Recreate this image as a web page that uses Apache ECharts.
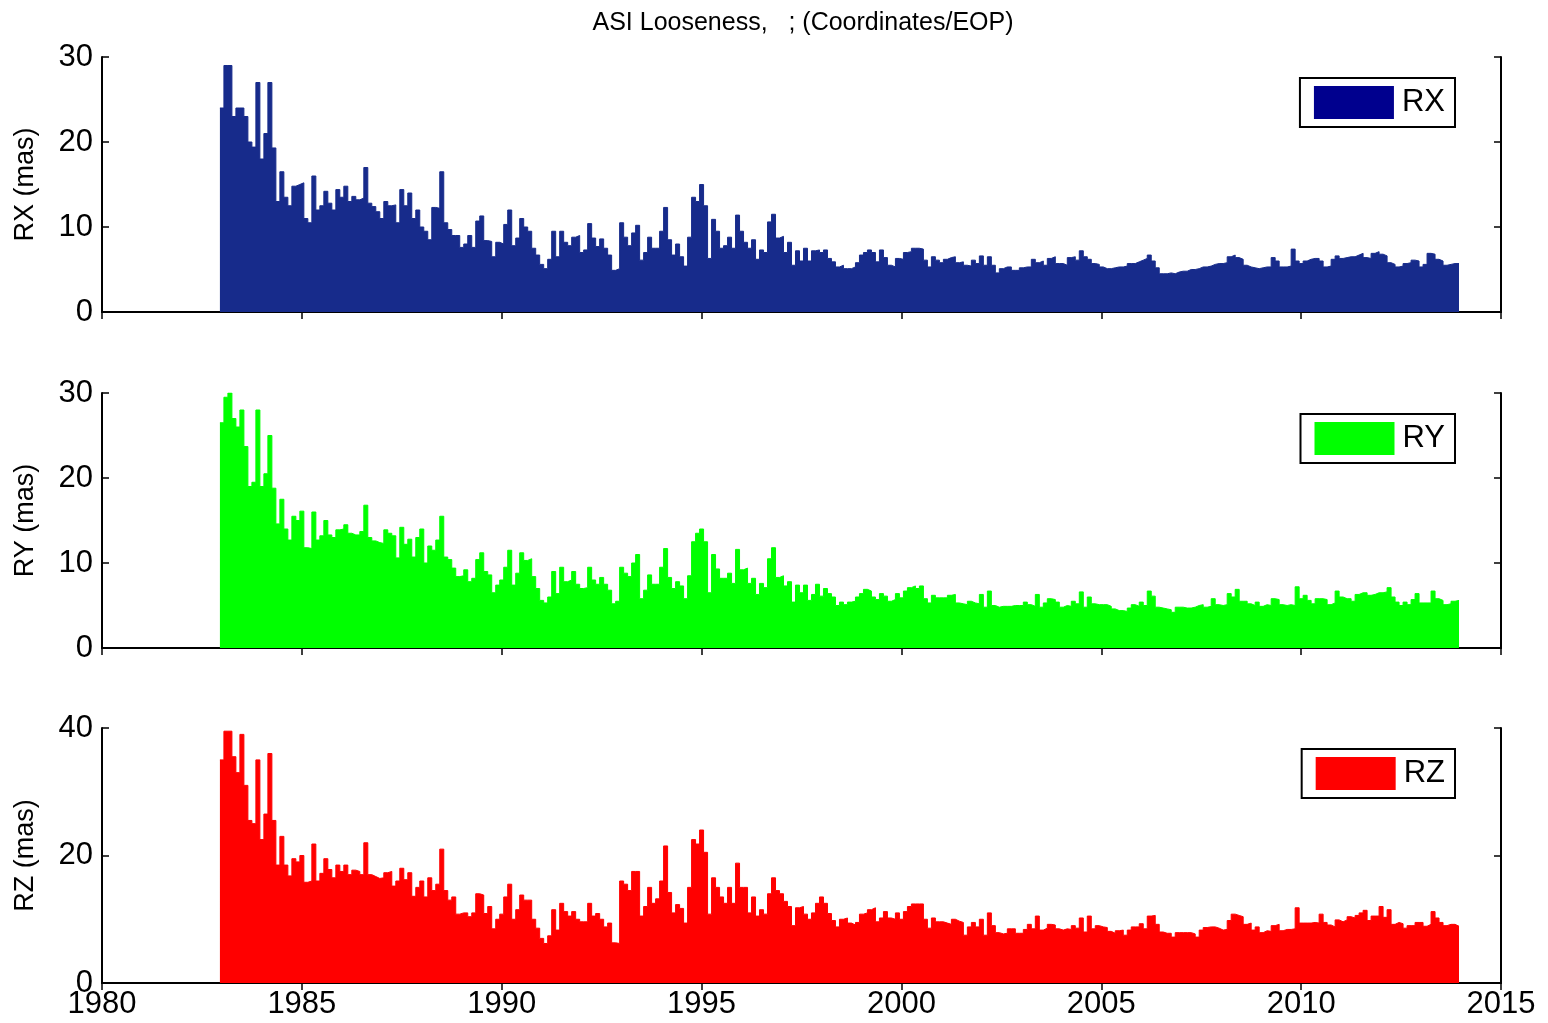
<!DOCTYPE html>
<html>
<head>
<meta charset="utf-8">
<title>ASI Looseness</title>
<script src="https://cdn.jsdelivr.net/npm/echarts/dist/echarts.min.js"></script>
<style>
  html, body { margin: 0; padding: 0; background: #fff; }
  #chart { width: 1548px; height: 1023px; }
</style>
</head>
<body>
<div id="chart"></div>
<script>
// sampling of the series: one value every 0.1 year, first bin starts at 1982.95
const startYear = 1982.95
const binStep = 0.1

const yearTicks = [1980, 1985, 1990, 1995, 2000, 2005, 2010, 2015]

const rxValues = [
    24, 29, 29, 23, 24, 24, 23, 20, 19.4, 27,
    18, 21, 27, 19.3, 13, 16.5, 13.5, 12.5, 14.8, 15,
    15.2, 11, 10.5, 16, 12, 12.5, 14.2, 12.8, 12, 14.4,
    13.5, 14.8, 13, 13.6, 13.2, 13.4, 17, 12.8, 12.4, 11.8,
    11, 13, 12.5, 12.6, 10.5, 14.4, 12.5, 14, 11, 12,
    10, 9.5, 8.5, 12.3, 12.2, 16.5, 10.5, 9.7, 9, 9,
    7.6, 8, 9, 7.6, 10.7, 11.3, 8.4, 8.3, 6.5, 8.2,
    8, 10.3, 12, 7.8, 8.7, 11, 10, 9.5, 7.5, 6.7,
    5.6, 5.1, 6.2, 9.5, 6.5, 9.5, 8.2, 7.8, 8.8, 9,
    7, 7.3, 10.4, 8.7, 7.7, 8.6, 7.5, 6.7, 4.9, 5.1,
    10.5, 8.8, 7.8, 9.3, 10.2, 6.1, 7, 8.8, 7.5, 7.5,
    9.5, 12.3, 8.5, 6.7, 8, 6.5, 5.4, 8.8, 13.5, 13,
    15, 12.5, 6.3, 10.9, 9.5, 7.5, 7.8, 8.8, 7.5, 11.4,
    9.5, 8.2, 7.5, 8.5, 6.2, 7.3, 7, 10.6, 11.5, 8.7,
    8.9, 7, 8.2, 5.5, 7.2, 6, 7.5, 6, 7.2, 7.3,
    7, 7.3, 6.3, 5.9, 5.3, 5.5, 5.1, 5.1, 5.3, 5.8,
    6.7, 7, 7.3, 7, 5.9, 7.3, 6.4, 5.5, 5.3, 6.3,
    6.2, 7, 7.1, 7.5, 7.5, 7.4, 6.1, 5.3, 6.5, 6.1,
    5.8, 6.2, 6.4, 6.5, 5.8, 5.9, 5.5, 5.4, 6.1, 5.7,
    6.6, 5.5, 6.5, 5.5, 4.6, 5.1, 5.3, 5.3, 4.9, 4.9,
    5.2, 5.3, 5.3, 6.2, 5.8, 6, 5.5, 6.3, 6.5, 5.7,
    5.7, 5.5, 6.4, 6.5, 6.1, 7.2, 6.5, 6.2, 5.7, 5.6,
    5.3, 5.1, 5.1, 5.2, 5.3, 5.3, 5.4, 5.7, 5.7, 5.9,
    6.1, 6.3, 6.7, 6, 5.2, 4.5, 4.5, 4.6, 4.5, 4.7,
    4.8, 4.8, 5, 5, 5.1, 5.3, 5.3, 5.4, 5.6, 5.7,
    5.7, 5.8, 6.5, 6.7, 6.4, 6.2, 5.5, 5.3, 5.2, 5.1,
    5.2, 5.3, 5.3, 6.4, 6, 5.3, 5.3, 5.4, 7.4, 6,
    5.7, 6, 6.2, 6.3, 6.3, 6, 5.3, 5.4, 6.2, 6.6,
    6.3, 6.4, 6.5, 6.5, 6.7, 6.9, 6.4, 6.3, 6.9, 7.1,
    6.8, 6.6, 5.8, 5.6, 5.3, 5.4, 5.7, 5.8, 6.1, 6,
    5.3, 5.6, 6.9, 6.8, 6.2, 6, 5.5, 5.6, 5.7, 5.7
]

const ryValues = [
    26.5, 29.5, 30, 27, 26, 28, 23.7, 19, 19.5, 28,
    19, 20.5, 25, 18.8, 14.6, 17.5, 14, 12.7, 15.5, 15,
    16.1, 11.8, 11.7, 16, 12.7, 13.2, 15, 13.3, 13, 13.9,
    14, 14.5, 13.5, 13.3, 13.3, 13.7, 16.8, 13, 12.6, 12.4,
    12.3, 13.9, 13.5, 13.2, 10.6, 14.2, 12.2, 12.8, 10.7, 13,
    14, 10, 12, 11.5, 12.7, 15.5, 10.7, 10.4, 9.4, 8.4,
    8.5, 9.2, 7.8, 8.2, 10.4, 11.2, 9, 8.6, 6.5, 7.4,
    8, 9.5, 11.5, 7.4, 8.8, 11.2, 10.3, 10.5, 8.4, 7,
    5.6, 5.3, 6, 9, 6.4, 9.5, 7.8, 8, 9, 7.5,
    7, 7.1, 9.5, 8, 7.5, 8.3, 7.5, 6.8, 5.2, 5.5,
    9.5, 8.8, 8.4, 10, 11, 5.8, 6.8, 8.6, 7.5, 7.5,
    9.5, 11.7, 8.3, 7, 7.8, 7.3, 5.8, 8.5, 12.5, 13.5,
    14, 12.5, 6.5, 11, 9.3, 8.2, 8.2, 8.8, 7.6, 11.6,
    9.2, 9.4, 7.6, 8.2, 6.3, 7.6, 7.1, 10.5, 11.8, 8.3,
    8.5, 7.3, 7.8, 5.4, 7.4, 6.5, 7.4, 5.6, 6.3, 7.5,
    6.1, 7, 6.4, 6, 5, 5.4, 5.1, 5.4, 5.5, 6,
    6.4, 6.9, 6.7, 6, 5.7, 6.4, 6.1, 5.5, 5.7, 6.4,
    5.9, 6.7, 7.1, 7.3, 7, 7.3, 5.8, 5.3, 6.2, 5.9,
    5.9, 5.9, 6.2, 6.3, 5.3, 5.2, 5.1, 5.5, 5.3, 5.2,
    6.3, 4.8, 6.7, 5, 4.8, 4.9, 4.9, 4.9, 5, 5,
    5, 5.4, 5.1, 4.9, 6.3, 4.8, 5.3, 5.8, 5.7, 5.4,
    4.8, 5, 4.9, 5.5, 5.2, 6.6, 4.8, 6, 5.2, 5.1,
    5.1, 5.1, 4.9, 4.6, 4.4, 4.4, 4.3, 4.7, 5.1, 4.9,
    5.4, 5, 6.7, 6.1, 4.8, 4.7, 4.6, 4.5, 4.2, 4.8,
    4.8, 4.7, 4.7, 4.8, 5, 5.1, 4.8, 4.9, 5.8, 5.1,
    5, 5.1, 6.4, 6, 6.9, 5.5, 5.5, 5.2, 5, 5.4,
    4.9, 5.1, 5, 5.8, 5.7, 5.1, 5, 5.1, 5, 7.2,
    5.8, 6.2, 5.6, 5.2, 5.8, 5.8, 5.7, 5.1, 5.3, 6.7,
    6, 5.8, 5.8, 5.5, 6.3, 6.5, 6.5, 6.2, 6.3, 6.5,
    6.5, 6.6, 7.1, 6, 5.4, 5, 5.4, 5.1, 5.7, 6.4,
    5.3, 5.3, 5.3, 6.7, 5.8, 5.6, 5.1, 5.2, 5.5, 5.6
]

const rzValues = [
    35, 39.5, 39.5, 35.5, 33, 39, 31, 25.5, 25, 35,
    22.5, 26.5, 36, 25.5, 18.5, 23, 18.5, 16.8, 19.5, 19,
    20, 15.8, 16, 21.8, 16, 17.2, 19.5, 17.8, 16.5, 18.5,
    17.5, 18.5, 17, 17.7, 17.5, 17, 22, 17, 16.7, 16.4,
    16.5, 17.3, 17.5, 15.2, 16, 18, 16.2, 17.3, 13.6, 15,
    16, 13.5, 16.5, 14.5, 15.5, 21, 14.5, 13, 13.5, 10.8,
    11, 11, 10.4, 11, 14, 13.8, 10.9, 12, 8.5, 10,
    10.8, 13.5, 15.5, 10, 11.5, 13.8, 13, 13, 10, 8.6,
    7, 6.2, 7.4, 11.5, 8.3, 12.5, 11.2, 10.5, 11.2, 10,
    9.6, 9.6, 12.5, 10.5, 10.9, 10, 8.8, 9.4, 6.3, 6.2,
    16, 15.5, 14.5, 17.5, 17.5, 10.5, 12, 15, 12.5, 13.2,
    16, 21.5, 14.2, 11, 12.3, 11.7, 9.4, 15, 22.5, 21.8,
    24, 20.5, 10.8, 16.5, 15, 13.5, 12.5, 15, 12.5, 18.8,
    15, 15, 11, 13.5, 10.5, 11.5, 10.8, 14, 16.5, 14.5,
    14, 12.8, 12, 9, 11.8, 12, 10.8, 10, 11, 12.5,
    13.5, 12.5, 10.9, 9.8, 8.8, 10, 10.2, 9.4, 9.1, 9.5,
    10.8, 11, 11.5, 11.8, 9.6, 10.2, 11.2, 10.2, 10, 11,
    10, 11.2, 12, 12.4, 12.4, 12.4, 10, 8.6, 10.2, 9.6,
    9.6, 9.4, 9.2, 10, 9.7, 9.5, 7.5, 8.8, 9.5, 8.8,
    10, 7.5, 11, 9, 7.9, 7.7, 7.8, 8.5, 8.5, 7.8,
    7.8, 8.4, 9.2, 8.5, 10.5, 8.3, 8.6, 9.2, 9.1, 8.5,
    8.3, 8.5, 8.4, 9, 8.6, 10.2, 8, 10.5, 8.5, 9,
    8.8, 8.7, 8.1, 7.8, 8.2, 8.3, 7.5, 8.3, 8.8, 8.8,
    9.3, 8.5, 10.5, 10.6, 9.2, 8, 7.8, 7.8, 7.2, 7.9,
    7.9, 7.9, 7.9, 7.7, 7.2, 8.3, 8.7, 8.8, 8.8, 8.6,
    8.3, 8.4, 9.8, 10.8, 10.6, 10.4, 9.2, 9.4, 8.3, 8.8,
    7.9, 8.2, 8.1, 9, 9.2, 8.2, 8.4, 8.4, 8.5, 11.8,
    9.4, 9.4, 9.4, 9.5, 9.4, 10.8, 9.5, 9.1, 8.8, 9.9,
    9.6, 9.9, 10.4, 10.2, 10.6, 11, 11.4, 9.8, 10.5, 10.5,
    12, 10.3, 11.5, 9.2, 9.5, 9.3, 8.6, 9, 9, 9.5,
    9.5, 8.9, 9.2, 11.2, 10.2, 9.5, 9, 9.2, 9.2, 8.9
]

const fontFamily = "'Liberation Sans', Arial, Helvetica, sans-serif"

const panels = [
    { name: 'RX', values: rxValues, color: '#172b8b', legendColor: '#00008e', top: 57, max: 30, interval: 10 },
    { name: 'RY', values: ryValues, color: '#00ff00', legendColor: '#00ff00', top: 393, max: 30, interval: 10 },
    { name: 'RZ', values: rzValues, color: '#ff0000', legendColor: '#ff0000', top: 728, max: 40, interval: 20 }
]

// step data: each value is held until the next bin, last bin closed by a repeat
function toSteps(values) {
    const data = values.map((v, i) => [+(startYear + i * binStep).toFixed(2), v])
    data.push([+(startYear + values.length * binStep).toFixed(2), values[values.length - 1]])
    return data
}

const axisLine = { show: true, lineStyle: { color: '#000', width: 2 } }
const axisTick = { show: true, inside: true, length: 7, lineStyle: { color: '#000', width: 1.5 } }

const grid = panels.map(p => ({ left: 102, right: 47, top: p.top, height: 255 }))

const xAxis = []
panels.forEach((p, i) => {
    xAxis.push({
        gridIndex: i, type: 'value', position: 'bottom',
        min: yearTicks[0], max: yearTicks[yearTicks.length - 1], interval: 5,
        axisLine, axisTick,
        axisLabel: {
            show: i === panels.length - 1, color: '#000', fontSize: 31, fontFamily, margin: 6,
            formatter: v => String(v)
        },
        splitLine: { show: false }
    })
})
panels.forEach((p, i) => {
    xAxis.push({
        gridIndex: i, type: 'value', position: 'top',
        min: yearTicks[0], max: yearTicks[yearTicks.length - 1], interval: 5,
        axisLine, axisTick, axisLabel: { show: false }, splitLine: { show: false }
    })
})

const yAxis = []
panels.forEach((p, i) => {
    yAxis.push({
        gridIndex: i, type: 'value', position: 'left',
        min: 0, max: p.max, interval: p.interval,
        name: p.name + ' (mas)', nameLocation: 'middle', nameGap: 63,
        nameTextStyle: { color: '#000', fontSize: 27, fontFamily },
        axisLine, axisTick,
        axisLabel: { color: '#000', fontSize: 31, fontFamily, margin: 9 },
        splitLine: { show: false }
    })
})
panels.forEach((p, i) => {
    yAxis.push({
        gridIndex: i, type: 'value', position: 'right',
        min: 0, max: p.max, interval: p.interval,
        axisLine, axisTick, axisLabel: { show: false }, splitLine: { show: false }
    })
})

const legend = panels.map(p => ({
    data: [{ name: p.name, itemStyle: { color: p.legendColor } }],
    right: 93, top: p.top + 21,
    icon: 'rect', itemWidth: 80, itemHeight: 33,
    padding: [8, 10, 8, 14],
    borderColor: '#000', borderWidth: 2, backgroundColor: '#fff',
    textStyle: { color: '#000', fontSize: 31, fontFamily, padding: [0, 0, 0, 3] },
    selectedMode: false
}))

const series = panels.map((p, i) => ({
    type: 'line',
    name: p.name,
    xAxisIndex: i,
    yAxisIndex: i,
    step: 'end',
    symbol: 'none',
    data: toSteps(p.values),
    itemStyle: { color: p.color },
    lineStyle: { color: p.color, width: 1 },
    areaStyle: { color: p.color, opacity: 1 },
    z: 1
}))

const option = {
    animation: false,
    backgroundColor: '#fff',
    title: {
        text: 'ASI Looseness,   ; (Coordinates/EOP)',
        left: 798, top: 6, textAlign: 'center',
        textStyle: { color: '#000', fontSize: 25, fontWeight: 'normal', fontFamily }
    },
    grid,
    xAxis,
    yAxis,
    legend,
    series
}

const myChart = echarts.init(document.getElementById('chart'))
myChart.setOption(option)
</script>
</body>
</html>
